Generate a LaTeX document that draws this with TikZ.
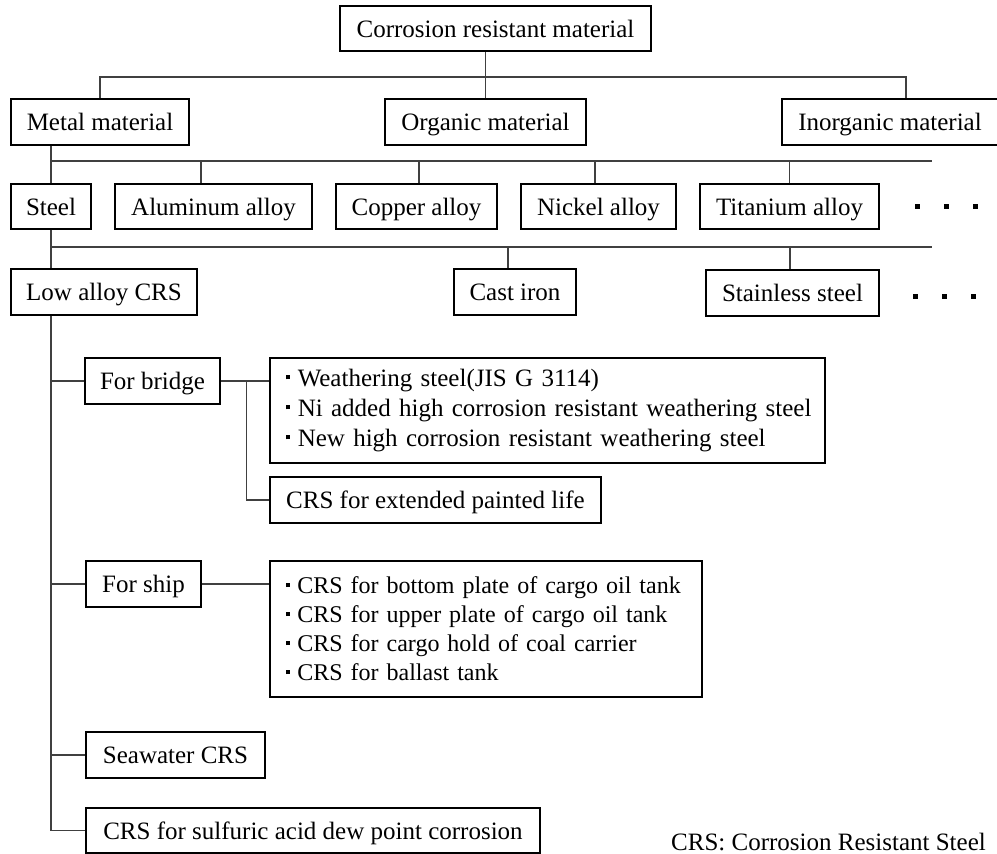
\documentclass[tikz,border=0pt]{standalone}
\usepackage{fontspec}
\setmainfont{Liberation Serif}
\newcommand\blt{\hspace{12pt}\rule[0.28em]{0.17em}{0.17em}\hspace{0.3em}}
\newcommand\sqdots{\rule[0pt]{5pt}{5pt}\hspace{24pt}\rule[0pt]{5pt}{5pt}\hspace{24pt}\rule[0pt]{5pt}{5pt}}
\tikzset{
  basebox/.style={draw=black, line width=1.3pt, fill=white, inner xsep=2pt, inner ysep=0pt,
    font=\fontsize{25}{30}\selectfont, anchor=center},
  box/.style={basebox, text height=20pt, text depth=3pt},
  listbox/.style={basebox, align=left, inner xsep=4pt},
  conn/.style={draw=black!75, line width=1.1pt},
}
\begin{document}
\begin{tikzpicture}[x=1pt,y=-1pt]
\useasboundingbox (0,0) rectangle (997,854);
% level 0
\node[box, minimum width=311pt, minimum height=45pt] (top) at (495.5,28.5) {Corrosion resistant material};
% level 1
\node[box, minimum width=178pt, minimum height=46pt] (metal) at (100,122) {Metal material};
\node[box, minimum width=201pt, minimum height=46pt] (organic) at (485.5,122) {Organic material};
\node[box, minimum width=216pt, minimum height=46pt] (inorganic) at (890,122) {Inorganic material};
% level 2
\node[box, minimum width=80pt, minimum height=45pt] (steel) at (51,206.5) {Steel};
\node[box, minimum width=197pt, minimum height=45pt] (alu) at (213.5,206.5) {Aluminum alloy};
\node[box, minimum width=161pt, minimum height=45pt] (copper) at (416.5,206.5) {Copper alloy};
\node[box, minimum width=155pt, minimum height=45pt] (nickel) at (598.5,206.5) {Nickel alloy};
\node[box, minimum width=179pt, minimum height=45pt] (titan) at (789.5,206.5) {Titanium alloy};
\node[inner sep=0pt] (dots1) at (946,206) {\sqdots};
% level 3
\node[box, minimum width=186pt, minimum height=46pt] (low) at (104,292) {Low alloy CRS};
\node[box, minimum width=122pt, minimum height=46pt] (cast) at (515,292) {Cast iron};
\node[box, minimum width=173pt, minimum height=46pt] (stain) at (792.5,293) {Stainless steel};
\node[inner sep=0pt] (dots2) at (944,296) {\sqdots};
% level 4
\node[box, minimum width=135pt, minimum height=46pt] (bridge) at (152.5,381) {For bridge};
\node[listbox, text width=547pt, minimum height=105pt] (blist) at (547.5,410.5)
  {\blt Weathering steel(JIS G 3114)\\ \blt Ni added high corrosion resistant weathering steel\\ \blt New high corrosion resistant weathering steel};
\node[box, minimum width=331pt, minimum height=46pt] (paint) at (435.5,500) {CRS for extended painted life};
\node[box, minimum width=115pt, minimum height=46pt] (ship) at (143.5,584) {For ship};
\node[listbox, text width=424pt, minimum height=136pt, font=\fontsize{24}{29}\selectfont] (slist) at (486,629)
  {\blt CRS for bottom plate of cargo oil tank\\ \blt CRS for upper plate of cargo oil tank\\ \blt CRS for cargo hold of coal carrier\\ \blt CRS for ballast tank};
\node[box, minimum width=179pt, minimum height=46pt] (sea) at (175.5,755) {Seawater CRS};
\node[box, minimum width=454pt, minimum height=45pt] (sulf) at (313,830.5) {CRS for sulfuric acid dew point corrosion};
\node[anchor=base east, inner sep=0pt, font=\fontsize{25}{30}\selectfont] (note) at (986,850) {CRS: Corrosion Resistant Steel};
% helper coordinates
\coordinate (h1) at (0,77);
\coordinate (indrop) at ([xshift=16pt]inorganic.north);
\coordinate (aludrop) at ([xshift=-12.5pt]alu.north);
\coordinate (cudrop) at ([xshift=2.5pt]copper.north);
\coordinate (nidrop) at ([xshift=-3.5pt]nickel.north);
\coordinate (castdrop) at ([xshift=-7pt]cast.north);
\coordinate (stdrop) at ([xshift=-2.5pt]stain.north);
\coordinate (pbend) at ([xshift=26pt]bridge.east);
% level 0-1
\draw[conn] (organic.north) -- (organic.north |- top.south);
\draw[conn] (metal.north) -- (metal.north |- h1) -- (h1 -| indrop) -- (indrop);
% level 1-2
\coordinate (h2) at (932,161);
\draw[conn] (steel.north |- metal.south) -- (steel.north);
\draw[conn] (steel.north |- h2) -- (h2);
\draw[conn] (aludrop) -- (aludrop |- h2);
\draw[conn] (cudrop) -- (cudrop |- h2);
\draw[conn] (nidrop) -- (nidrop |- h2);
\draw[conn] (titan.north) -- (titan.north |- h2);
% level 2-3
\coordinate (h3) at (932,247);
\draw[conn] (steel.south) -- (steel.south |- low.north);
\draw[conn] (steel.south |- h3) -- (h3);
\draw[conn] (castdrop) -- (castdrop |- h3);
\draw[conn] (stdrop) -- (stdrop |- h3);
% level 3-4
\draw[conn] (steel.south |- low.south) |- (sulf.west);
\draw[conn] (bridge.west) -- (bridge.west -| steel.south);
\draw[conn] (ship.west) -- (ship.west -| steel.south);
\draw[conn] (sea.west) -- (sea.west -| steel.south);
\draw[conn] (bridge.east) -- (bridge.east -| blist.west);
\draw[conn] (pbend) |- (paint.west);
\draw[conn] (ship.east) -- (ship.east -| slist.west);
\end{tikzpicture}
\end{document}
